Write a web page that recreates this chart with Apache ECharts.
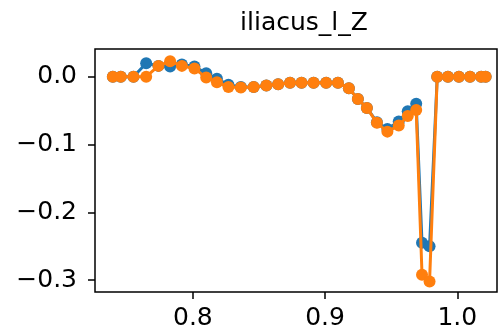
<!DOCTYPE html>
<html>
<head>
<meta charset="utf-8">
<script src="https://cdn.jsdelivr.net/npm/echarts@6/dist/echarts.min.js"></script>
<style>
  html, body { margin: 0; padding: 0; background: #fff; }
  #main { width: 498px; height: 333px; }
</style>
</head>
<body>
<div id="main"></div>
<script>
// sample positions (shared by both series)
var xs = [0.7395, 0.7455, 0.7551, 0.7647, 0.774, 0.7828, 0.7917, 0.8012, 0.8101, 0.8182,
          0.8269, 0.8363, 0.846, 0.8556, 0.8645, 0.8735, 0.8822, 0.8913, 0.9008, 0.9097,
          0.918, 0.9248, 0.9316, 0.9392, 0.9471, 0.9557, 0.9625, 0.9689, 0.9733, 0.979,
          0.9848, 0.9929, 1.0012, 1.0096, 1.018, 1.0214];
var blueY = [0, 0, 0, 0.020, 0.016, 0.015, 0.018, 0.015, 0.005, -0.003,
             -0.012, -0.015, -0.015, -0.013, -0.011, -0.009, -0.009, -0.009, -0.009, -0.009,
             -0.017, -0.033, -0.046, -0.067, -0.077, -0.066, -0.051, -0.040, -0.245, -0.250,
             0, 0, 0, 0, 0, 0];
var orangeY = [0, 0, 0, 0, 0.016, 0.023, 0.016, 0.012, -0.001, -0.008,
               -0.015, -0.016, -0.015, -0.013, -0.011, -0.009, -0.009, -0.009, -0.009, -0.009,
               -0.017, -0.033, -0.046, -0.068, -0.081, -0.072, -0.058, -0.049, -0.292, -0.302,
               0, 0, 0, 0, 0, 0];
var xTicks = [0.8, 0.9, 1.0];
var yTicks = [0.0, -0.1, -0.2, -0.3];

function pairs(ys) {
  return xs.map(function (x, i) { return [x, ys[i]]; });
}
function fmt(v) {
  return v.toFixed(1).replace('-', '\u2212');
}

var font = 'DejaVu Sans';
var myChart = echarts.init(document.getElementById('main'));

var option = {
  animation: false,
  title: {
    text: 'iliacus_l_Z',
    left: 299,
    top: 6,
    textAlign: 'center',
    textStyle: { fontFamily: font, fontSize: 25, fontWeight: 'normal', color: '#000' }
  },
  grid: {
    left: 95, right: 1, top: 49, bottom: 41,
    show: true, borderColor: '#000', borderWidth: 1.5, backgroundColor: 'transparent'
  },
  xAxis: {
    type: 'value',
    min: 0.726, max: 1.030,
    splitLine: { show: false },
    axisLine: { show: false, onZero: false },
    axisTick: { show: true, customValues: xTicks, length: 7, lineStyle: { color: '#000', width: 1.5 } },
    axisLabel: {
      customValues: xTicks, margin: 14, formatter: fmt,
      fontFamily: font, fontSize: 25, color: '#000'
    }
  },
  yAxis: {
    type: 'value',
    min: -0.3176, max: 0.0409,
    splitLine: { show: false },
    axisLine: { show: false, onZero: false },
    axisTick: { show: true, customValues: yTicks, length: 7, lineStyle: { color: '#000', width: 1.5 } },
    axisLabel: {
      customValues: yTicks, margin: 18, formatter: fmt,
      fontFamily: font, fontSize: 25, color: '#000'
    }
  },
  series: [
    {
      type: 'line', data: pairs(blueY), color: '#1f77b4',
      symbol: 'circle', symbolSize: 12, showSymbol: true,
      lineStyle: { width: 3 }, z: 2
    },
    {
      type: 'line', data: pairs(orangeY), color: '#ff7f0e',
      symbol: 'circle', symbolSize: 12, showSymbol: true,
      lineStyle: { width: 3 }, z: 3
    }
  ]
};
myChart.setOption(option);
</script>
</body>
</html>
